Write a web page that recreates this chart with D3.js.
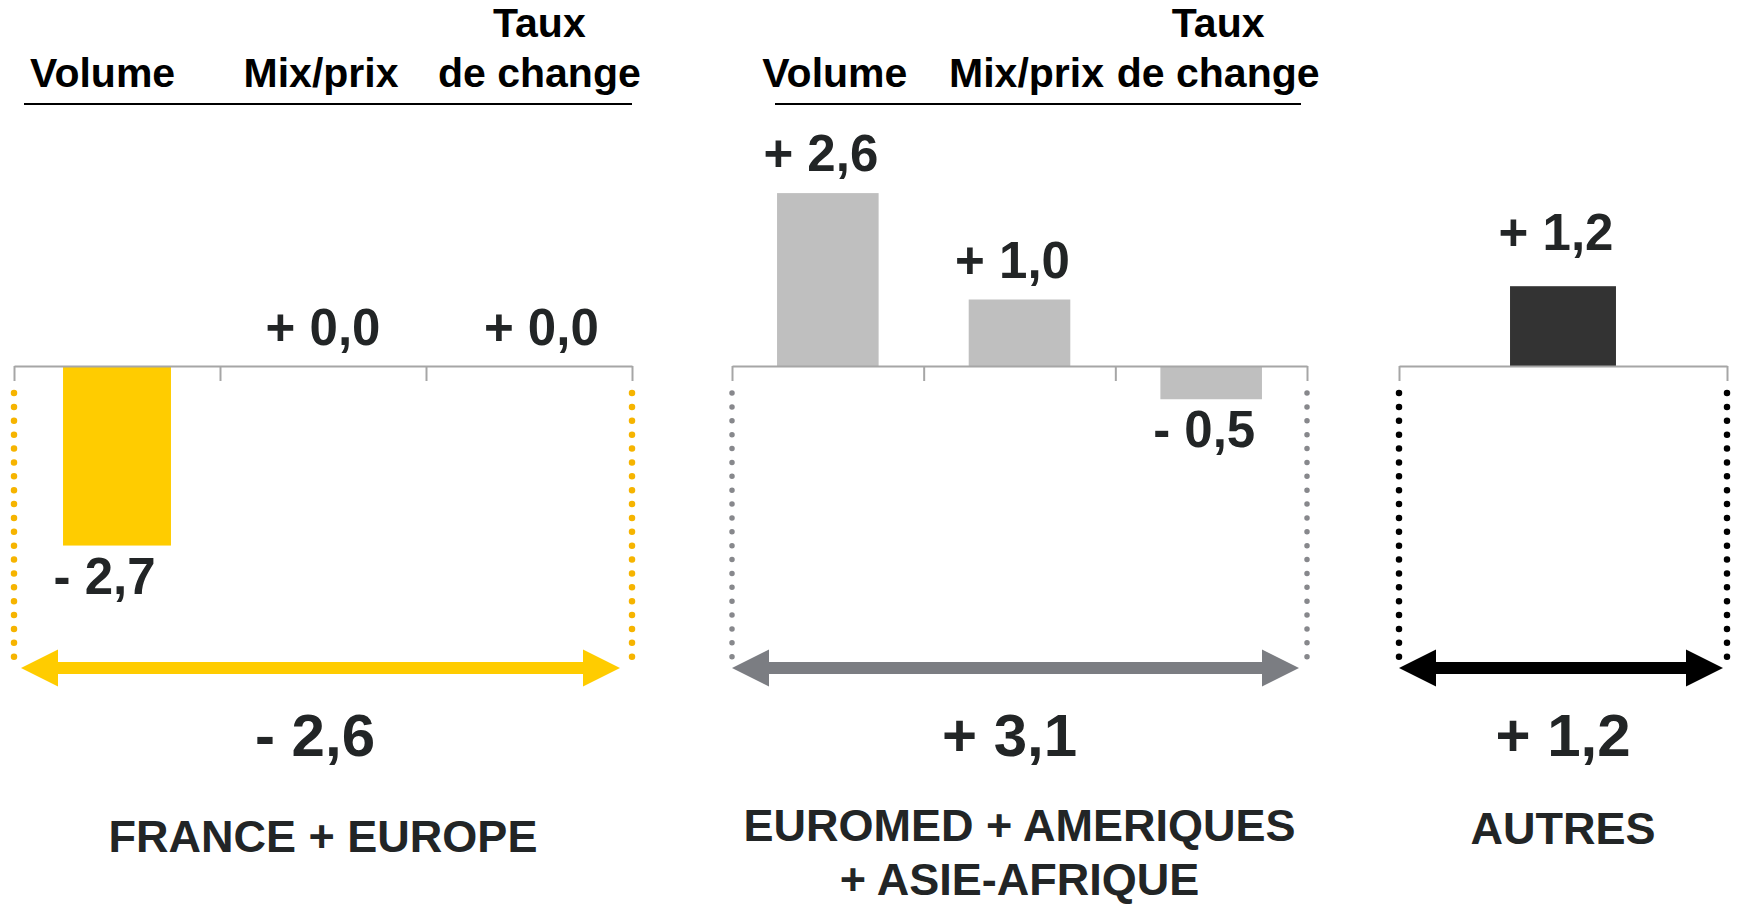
<!DOCTYPE html>
<html>
<head>
<meta charset="utf-8">
<script src="https://cdn.jsdelivr.net/npm/d3@7"></script>
<style>
  body { margin: 0; background: white; }
  text { font-family: "Liberation Sans", Arial, sans-serif; font-weight: bold; }
</style>
</head>
<body>
<div id="chart"></div>
<script>
// data
const categories = ['Volume', 'Mix/prix', 'Taux de change'];
const tickLabels = [['Volume'], ['Mix/prix'], ['Taux', 'de change']];
const franceEurope = [-2.7, 0.0, 0.0];
const euromedAmeriques = [2.6, 1.0, -0.5];
const autres = [1.2];
const totals = [-2.6, 3.1, 1.2];
const regionNames = [['FRANCE + EUROPE'], ['EUROMED + AMERIQUES', '+ ASIE-AFRIQUE'], ['AUTRES']];

// french style signed number: "+ 2,6" / "- 0,5"
const fmt = v => (v < 0 ? '- ' : '+ ') + d3.format('.1f')(Math.abs(v)).replace('.', ',');

let width = 1741,
  height = 905;

let svg = d3.select('#chart')
  .append('svg')
    .attr('width', width)
    .attr('height', height)
    .style('background', 'white');

// one value scale shared by the three blocks
let zeroY = 366, unit = 66.5;
let yScale = d3.scaleLinear()
  .domain([-3, 3])
  .range([zeroY + 3 * unit, zeroY - 3 * unit]);

let panels = [
  { values: franceEurope, total: totals[0], names: regionNames[0], headers: true,
    x0: 14, x1: 632, barPad: 0.476, bar: '#FFCC00', dot: '#F6B400', dotW: 6.5, arrow: '#FFCC00',
    rule: [24, 632], spread: 1.06, headerShift: -2, valueShift: 0, totalShift: -8,
    labelGap: 21, nameY: 852, inset: [7, 12] },
  { values: euromedAmeriques, total: totals[1], names: regionNames[1], headers: true,
    x0: 732, x1: 1307, barPad: 0.47, bar: '#BFBFBF', dot: '#87888C', dotW: 5.5, arrow: '#7B7D82',
    rule: [775, 1301], spread: 1, headerShift: 7, valueShift: -7, totalShift: -10,
    labelGap: 22, nameY: 841, inset: [0, 8] },
  { values: autres, total: totals[2], names: regionNames[2], headers: false,
    x0: 1399, x1: 1727, barPad: 0.677, bar: '#333333', dot: '#000000', dotW: 6.5, arrow: '#000000',
    rule: null, spread: 1, headerShift: 0, valueShift: -7, totalShift: 0,
    labelGap: 36, nameY: 844, inset: [0, 4] }
];

panels.forEach(function(p) {
  let g = svg.append('g');
  let n = p.values.length;
  let keys = d3.range(n);
  let cx = (p.x0 + p.x1) / 2;

  // bars centred in each segment between ticks
  let xScale = d3.scaleBand()
    .domain(keys)
    .range([p.x0, p.x1])
    .paddingInner(p.barPad)
    .paddingOuter(p.barPad / 2);

  // text centre for column i (texts sit a bit wider apart than the bars)
  let textX = i => cx + (xScale(i) + xScale.bandwidth() / 2 - cx) * p.spread;

  // column headers
  if (p.headers) {
    tickLabels.forEach(function(lines, i) {
      let t = g.append('text')
        .attr('text-anchor', 'middle')
        .attr('font-size', 41)
        .attr('fill', '#000');
      lines.forEach(function(line, j) {
        t.append('tspan')
          .attr('x', textX(i) + p.headerShift)
          .attr('y', 87 - (lines.length - 1 - j) * 50)
          .text(line);
      });
    });
    g.append('line')
      .attr('x1', p.rule[0]).attr('x2', p.rule[1])
      .attr('y1', 104).attr('y2', 104)
      .attr('stroke', '#000')
      .attr('stroke-width', 2);
  }

  // bars
  g.selectAll('rect.bar')
    .data(p.values)
    .enter()
    .append('rect')
      .attr('class', 'bar')
      .attr('x', (d, i) => xScale(i))
      .attr('y', d => yScale(Math.max(0, d)))
      .attr('width', xScale.bandwidth())
      .attr('height', d => Math.abs(yScale(d) - yScale(0)))
      .attr('fill', p.bar);

  // axis with ticks on the segment borders
  let tickScale = d3.scaleLinear().domain([0, n]).range([p.x0, p.x1]);
  let axis = g.append('g')
    .attr('transform', 'translate(0,' + yScale(0) + ')')
    .call(d3.axisBottom(tickScale)
      .tickValues(d3.range(n + 1))
      .tickSize(15)
      .tickSizeOuter(0)
      .tickFormat(''));
  axis.select('.domain').attr('stroke', '#A6A6A6').attr('stroke-width', 2);
  axis.selectAll('.tick line').attr('stroke', '#A6A6A6').attr('stroke-width', 2);

  // value labels
  g.selectAll('text.value')
    .data(p.values)
    .enter()
    .append('text')
      .attr('class', 'value')
      .attr('text-anchor', 'middle')
      .attr('font-size', 51)
      .attr('fill', '#222526')
      .attr('x', (d, i) => textX(i) + p.valueShift)
      .attr('y', d => d < 0 ? yScale(d) + 48 : yScale(d) - p.labelGap)
      .text(fmt);

  // dotted side lines
  [p.x0, p.x1].forEach(function(x) {
    g.append('line')
      .attr('x1', x).attr('x2', x)
      .attr('y1', 393).attr('y2', 657)
      .attr('stroke', p.dot)
      .attr('stroke-width', p.dotW)
      .attr('stroke-linecap', 'round')
      .attr('stroke-dasharray', '0,13.88');
  });

  // double arrow
  let ay = 668, hl = 37, hh = 18.5, sh = 6;
  let xl = p.x0 + p.inset[0], xr = p.x1 - p.inset[1];
  let pts = [
    [xl, ay], [xl + hl, ay - hh], [xl + hl, ay - sh], [xr - hl, ay - sh], [xr - hl, ay - hh],
    [xr, ay], [xr - hl, ay + hh], [xr - hl, ay + sh], [xl + hl, ay + sh], [xl + hl, ay + hh]
  ];
  g.append('path')
    .attr('d', d3.line()(pts) + 'Z')
    .attr('fill', p.arrow);

  // total of the block
  g.append('text')
    .attr('text-anchor', 'middle')
    .attr('font-size', 60)
    .attr('fill', '#222526')
    .attr('x', cx + p.totalShift)
    .attr('y', 756)
    .text(fmt(p.total));

  // region name
  let nt = g.append('text')
    .attr('text-anchor', 'middle')
    .attr('font-size', 45)
    .attr('fill', '#222526');
  p.names.forEach(function(line, j) {
    nt.append('tspan')
      .attr('x', cx)
      .attr('y', p.nameY + j * 54)
      .text(line);
  });
});
</script>
</body>
</html>
